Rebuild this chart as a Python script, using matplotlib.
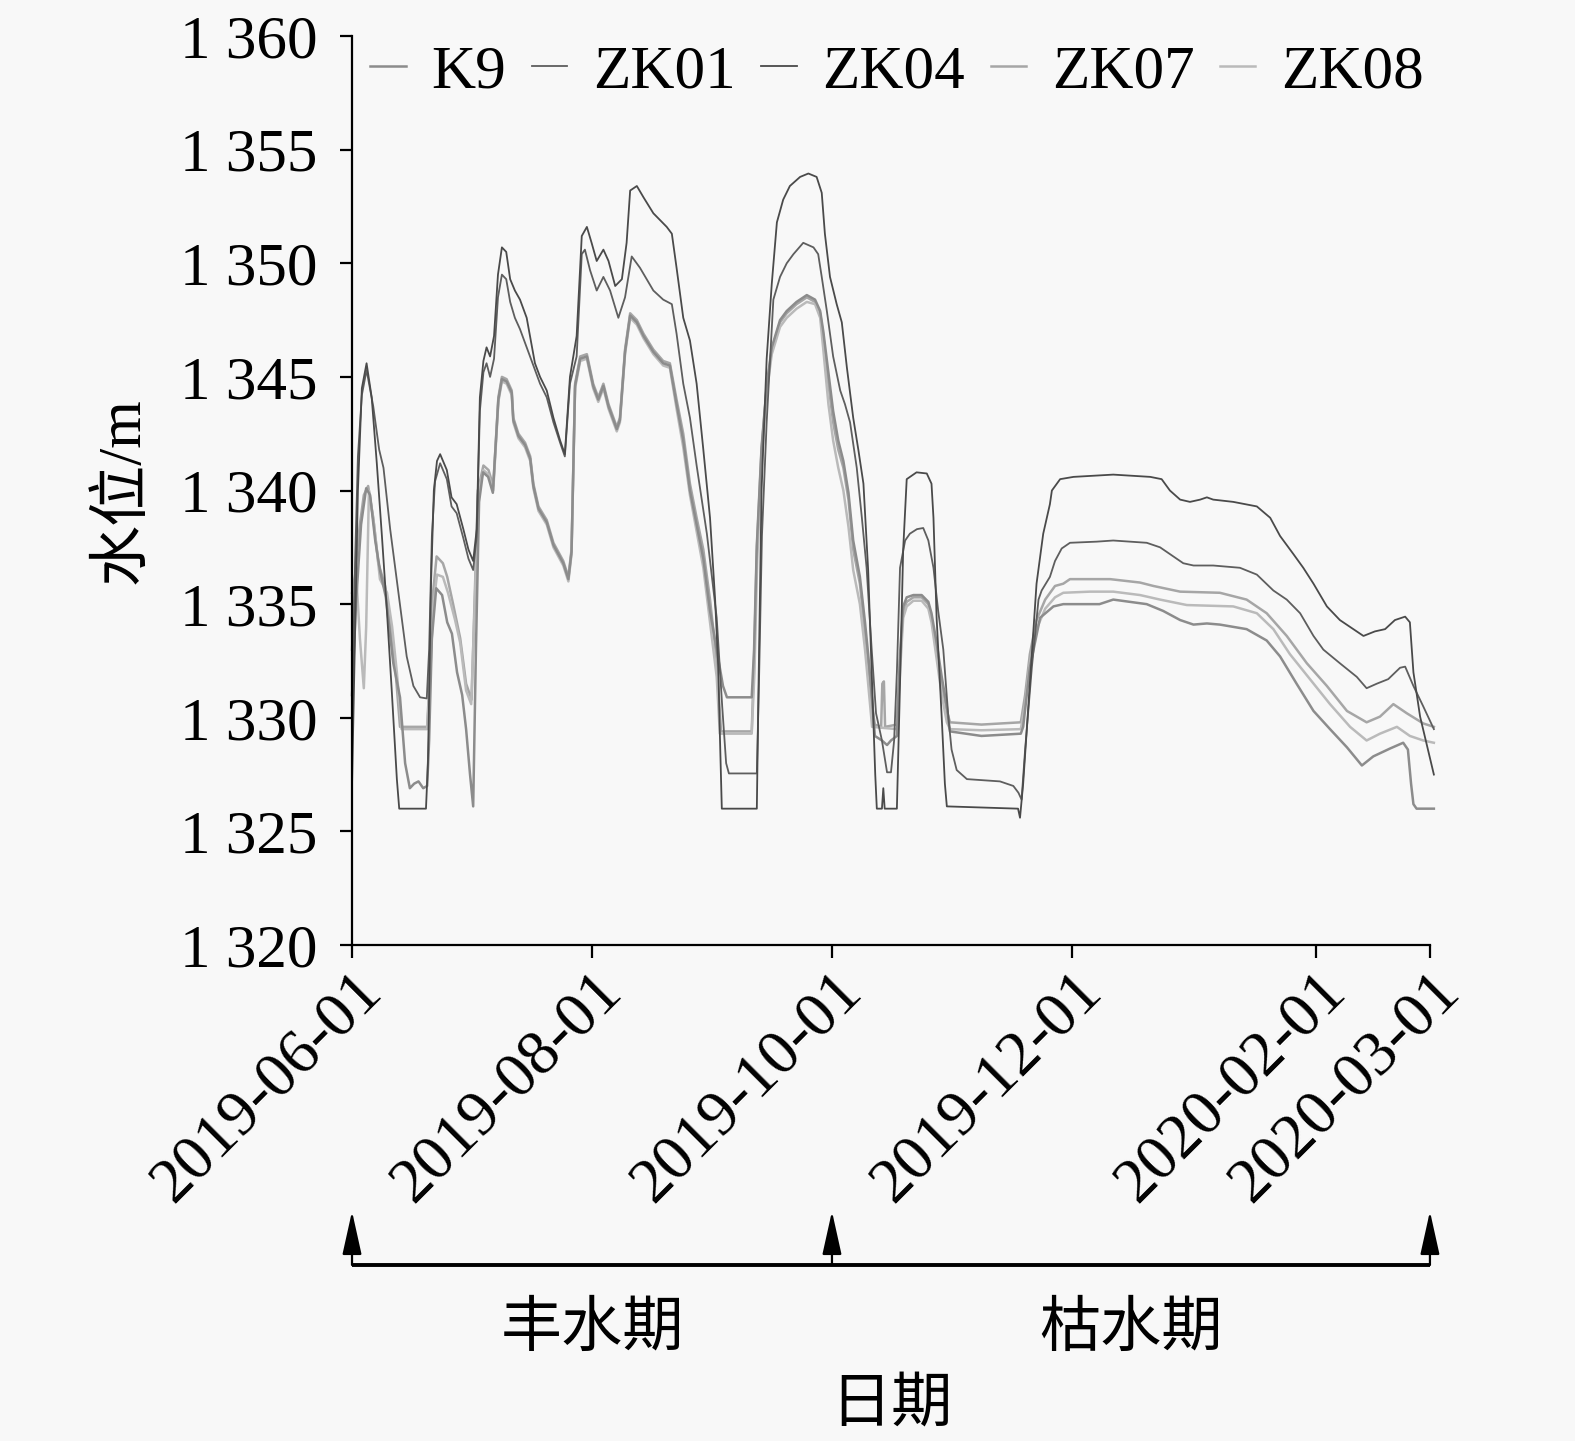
import numpy as np
import matplotlib
matplotlib.use('Agg')
import matplotlib.pyplot as plt
import matplotlib.dates as mdates
from matplotlib.ticker import FuncFormatter
from datetime import datetime

plt.rcParams['font.family'] = ['Liberation Serif', 'Noto Sans CJK SC']

start = datetime(2019, 6, 1)

# days since 2019-06-01 and water level (m) for each well
zk04_days = [0, 0.8, 1.5, 2.5, 3.7, 5.0, 6.3, 7.6, 8.8, 10.1, 11.4, 12.0, 18.8, 19.3, 20.1, 20.8, 21.6, 22.4,
             24.1, 25.3, 26.6, 28.3, 29.6, 30.8, 31.7, 32.5, 33.4, 34.2, 35.1, 36.1, 37.1, 38.1, 39.2, 40.2,
             41.4, 42.7, 44.4, 46.5, 47.8, 49.5, 51.2, 52.9, 54.1, 55.4, 57.1, 58.4, 59.7, 60.9, 62.2, 63.9,
             65.2, 66.9, 68.6, 69.8, 70.7, 72.4, 74.1, 76.6, 80.0, 81.3, 82.5, 84.2, 85.9, 87.6, 89.3, 91.0,
             92.3, 93.1, 93.5, 94.0, 102.9, 103.3, 104.1, 105.4, 106.7, 108.0, 109.6, 111.3, 113.9, 116.0,
             118.1, 119.4, 120.2, 121.5, 123.2, 124.5, 125.8, 127.4, 128.7, 130.0, 131.2, 132.2, 133.0, 133.4,
             134.7, 135.05, 135.4, 138.5, 139.3, 140.1, 141.0, 143.5, 146.1, 147.3, 147.8, 148.6, 149.9,
             150.7, 151.2, 169.3, 169.8, 170.6, 172.3, 174.0, 175.7, 177.4, 177.9, 180.0, 183.4, 193.5,
             202.9, 205.8, 207.9, 210.5, 213.0, 215.6, 217.3, 218.9, 224.0, 230.0, 233.4, 235.9, 239.3,
             241.8, 244.4, 247.8, 251.1, 255.4, 257.1, 260.0, 262.6, 265.1, 267.7, 268.9, 269.8, 271.5,
             273.5, 275.0]
zk04_level = [1327.0, 1334.0, 1340.0, 1344.5, 1345.6, 1344.1, 1341.2, 1338.0, 1334.9, 1331.2, 1327.3, 1326.0,
              1326.0, 1328.0, 1336.0, 1340.0, 1341.3, 1341.6, 1340.9, 1339.7, 1339.4, 1338.3, 1337.4, 1336.9,
              1338.3, 1344.1, 1345.7, 1346.3, 1345.9, 1346.8, 1349.5, 1350.7, 1350.5, 1349.3, 1348.8, 1348.4,
              1347.6, 1345.6, 1345.0, 1344.4, 1343.2, 1342.2, 1341.6, 1345.0, 1346.8, 1351.2, 1351.6, 1350.9,
              1350.1, 1350.6, 1350.1, 1349.0, 1349.3, 1350.9, 1353.2, 1353.4, 1352.9, 1352.2, 1351.6, 1351.3,
              1349.8, 1347.6, 1346.6, 1344.7, 1341.8, 1338.8, 1335.2, 1332.2, 1329.3, 1326.0, 1326.0, 1331.0,
              1340.0, 1345.8, 1349.1, 1351.8, 1352.8, 1353.4, 1353.8, 1353.95, 1353.8, 1353.1, 1351.3, 1349.4,
              1348.2, 1347.4, 1345.4, 1343.2, 1341.8, 1340.3, 1336.5, 1331.5, 1327.5, 1326.0, 1326.0, 1326.9,
              1326.0, 1326.0, 1331.5, 1337.4, 1340.5, 1340.8, 1340.75, 1340.3, 1338.8, 1334.4, 1330.0, 1327.1,
              1326.1, 1326.0, 1325.6, 1327.1, 1331.5, 1335.9, 1338.1, 1339.4, 1340.0, 1340.5, 1340.6, 1340.7,
              1340.6, 1340.5, 1340.0, 1339.6, 1339.5, 1339.6, 1339.7, 1339.6, 1339.5, 1339.3, 1338.8, 1338.0,
              1337.2, 1336.6, 1335.9, 1334.9, 1334.3, 1333.8, 1333.6, 1333.8, 1333.9, 1334.3, 1334.45, 1334.2,
              1332.0, 1330.05, 1328.6, 1327.5]

zk01_days = [0, 0.8, 1.5, 2.5, 3.7, 5.4, 6.9, 8.0, 9.7, 11.8, 13.9, 15.6, 17.3, 19.0, 19.6, 20.3, 21.1, 22.4,
             24.1, 25.3, 26.6, 28.3, 29.6, 30.8, 31.7, 32.5, 33.4, 34.2, 35.1, 36.1, 37.1, 38.1, 39.2, 40.2,
             41.4, 42.7, 44.4, 46.5, 47.8, 49.5, 51.2, 52.9, 54.1, 55.4, 57.1, 58.4, 59.2, 60.5, 62.2, 63.9,
             65.6, 67.7, 69.4, 71.1, 73.2, 76.6, 79.1, 81.3, 82.5, 84.2, 85.9, 87.6, 90.2, 92.7, 94.1, 95.1,
             95.8, 102.9, 103.5, 104.2, 105.4, 107.1, 108.8, 110.5, 112.2, 114.7, 117.3, 118.5, 119.4, 120.7,
             122.3, 124.1, 125.3, 126.6, 128.3, 129.6, 130.8, 132.1, 133.2, 134.7, 136.0, 137.0, 137.8, 138.5,
             139.3, 140.6, 141.8, 143.6, 145.2, 146.5, 147.8, 149.0, 150.3, 151.6, 152.4, 153.7, 156.3, 164.7,
             168.1, 169.4, 170.2, 171.1, 172.8, 174.5, 175.3, 177.4, 178.7, 180.4, 182.5, 189.3, 193.5, 202.0,
             205.4, 208.8, 211.3, 213.9, 218.9, 225.7, 230.0, 234.2, 237.6, 241.0, 244.4, 246.9, 251.1, 255.4,
             257.9, 260.5, 263.4, 266.4, 267.7, 269.8, 272.3, 275.0]
zk01_level = [1330.0, 1337.0, 1341.5, 1344.2, 1345.3, 1343.7, 1341.8, 1341.0, 1338.3, 1335.5, 1332.7, 1331.4,
              1330.9, 1330.85, 1333.0, 1338.0, 1340.4, 1341.2, 1340.5, 1339.3, 1339.0, 1337.9, 1337.0, 1336.5,
              1338.0, 1343.5, 1345.2, 1345.6, 1345.0, 1345.8, 1348.5, 1349.5, 1349.3, 1348.3, 1347.6, 1347.1,
              1346.3, 1345.3, 1344.7, 1344.1, 1343.0, 1342.1, 1341.5, 1344.7, 1345.9, 1350.4, 1350.6, 1349.7,
              1348.8, 1349.4, 1348.8, 1347.6, 1348.5, 1350.3, 1349.8, 1348.8, 1348.4, 1348.2, 1346.9, 1344.7,
              1343.2, 1341.1, 1338.1, 1334.4, 1330.5, 1328.0, 1327.55, 1327.55, 1332.0, 1338.0, 1343.0, 1348.4,
              1349.4, 1350.0, 1350.4, 1350.9, 1350.7, 1350.4, 1349.4, 1347.9, 1345.9, 1344.4, 1343.8, 1343.0,
              1341.0, 1338.8, 1336.6, 1333.0, 1330.2, 1329.0, 1327.6, 1327.6, 1329.0, 1332.0, 1336.6, 1337.8,
              1338.1, 1338.3, 1338.35, 1337.8, 1336.6, 1334.7, 1333.0, 1330.0, 1328.6, 1327.7, 1327.3, 1327.2,
              1327.0, 1326.7, 1326.4, 1328.6, 1332.2, 1335.2, 1335.6, 1336.2, 1336.9, 1337.45, 1337.7, 1337.75,
              1337.8, 1337.7, 1337.5, 1337.1, 1336.8, 1336.7, 1336.7, 1336.6, 1336.3, 1335.6, 1335.2, 1334.6,
              1333.6, 1333.0, 1332.4, 1331.8, 1331.3, 1331.5, 1331.7, 1332.2, 1332.25, 1331.4, 1330.5, 1329.5]

zk07_days = [0, 1.0, 2.0, 3.0, 4.1, 5.4, 6.7, 8.4, 9.7, 10.9, 12.2, 19.1, 19.8, 20.6, 21.5, 23.1, 24.2, 25.7,
             27.5, 29.0, 30.4, 31.3, 32.0, 33.4, 34.7, 35.9, 37.2, 38.1, 39.3, 40.6, 41.0, 42.3, 44.0, 45.3,
             46.1, 47.4, 49.5, 51.2, 53.7, 55.0, 55.8, 56.7, 58.0, 59.7, 61.3, 62.6, 63.9, 65.2, 67.3, 68.1,
             69.4, 70.7, 72.4, 74.1, 76.6, 79.1, 80.8, 82.5, 84.2, 85.9, 87.6, 89.3, 91.0, 92.7, 93.8, 101.6,
             102.2, 102.9, 104.1, 105.4, 106.7, 108.8, 110.5, 113.0, 115.6, 117.7, 119.0, 119.8, 121.1, 122.3,
             123.6, 124.9, 126.2, 127.4, 129.1, 130.4, 131.2, 132.2, 132.9, 134.5, 134.8, 135.2, 135.5, 138.5,
             139.3, 140.1, 141.0, 142.7, 144.8, 146.5, 147.3, 148.6, 149.9, 151.2, 152.0, 160.0, 170.0, 171.1,
             172.3, 174.0, 176.2, 178.7, 180.8, 182.5, 187.6, 192.7, 200.3, 203.7, 210.5, 220.6, 227.4, 232.5,
             237.6, 242.7, 247.8, 252.9, 257.9, 261.3, 264.7, 268.1, 272.3, 275.0]
zk07_level = [1333.0, 1336.8, 1338.5, 1339.8, 1340.2, 1338.8, 1336.8, 1335.8, 1334.3, 1332.4, 1329.6, 1329.6,
              1332.0, 1335.5, 1337.1, 1336.8, 1336.2, 1335.0, 1333.5, 1331.5, 1330.8, 1336.0, 1340.0, 1341.1,
              1340.9, 1340.2, 1344.1, 1345.0, 1344.9, 1344.4, 1343.2, 1342.5, 1342.1, 1341.5, 1340.3, 1339.3,
              1338.7, 1337.7, 1336.9, 1336.2, 1337.4, 1344.7, 1345.9, 1346.0, 1344.7, 1344.1, 1344.7, 1343.8,
              1342.8, 1343.2, 1346.2, 1347.8, 1347.5, 1346.9, 1346.2, 1345.7, 1345.6, 1344.0, 1342.5, 1340.3,
              1338.8, 1337.4, 1335.2, 1332.5, 1329.4, 1329.4, 1332.5, 1337.4, 1341.8, 1344.5, 1346.2, 1347.4,
              1347.8, 1348.2, 1348.5, 1348.3, 1347.8, 1346.8, 1344.7, 1343.0, 1341.8, 1341.0, 1339.6, 1337.4,
              1335.9, 1333.7, 1332.5, 1330.5, 1329.7, 1329.6, 1331.5, 1331.6, 1329.6, 1329.7, 1332.5, 1334.7,
              1335.1, 1335.3, 1335.3, 1335.0, 1334.4, 1333.0, 1331.5, 1330.3, 1329.8, 1329.7, 1329.8, 1331.0,
              1332.8, 1334.3, 1335.2, 1335.8, 1335.9, 1336.1, 1336.1, 1336.1, 1335.95, 1335.8, 1335.55, 1335.5,
              1335.2, 1334.6, 1333.6, 1332.4, 1331.4, 1330.3, 1329.8, 1330.05, 1330.6, 1330.2, 1329.75, 1329.6]

zk08_days = [0, 1.0, 2.0, 3.0, 3.6, 4.3, 5.6, 7.1, 8.9, 10.2, 11.4, 12.6, 19.1, 19.8, 20.6, 21.6, 23.1, 24.4,
             26.2, 27.5, 29.0, 30.3, 31.3, 32.0, 33.4, 34.7, 35.9, 37.2, 38.1, 39.3, 40.6, 41.0, 42.3, 44.0,
             45.3, 46.1, 47.4, 49.5, 51.2, 53.7, 55.0, 55.8, 56.7, 58.0, 59.7, 61.3, 62.6, 63.9, 65.2, 67.3,
             68.1, 69.4, 70.7, 72.4, 74.1, 76.6, 79.1, 80.8, 82.5, 84.2, 85.9, 87.6, 89.3, 91.0, 92.7, 93.5,
             101.6, 102.3, 103.0, 104.2, 105.4, 106.7, 108.8, 110.5, 113.0, 115.6, 117.7, 119.0, 119.8, 121.1,
             122.3, 123.6, 124.9, 126.2, 127.4, 129.1, 130.4, 131.2, 132.2, 138.5, 139.3, 140.1, 141.0, 142.7,
             144.8, 146.5, 147.3, 148.6, 149.9, 151.2, 152.0, 160.0, 170.0, 171.1, 172.3, 174.0, 176.2, 178.7,
             180.8, 187.6, 193.5, 200.3, 205.4, 212.2, 224.0, 230.0, 234.2, 238.4, 243.5, 248.6, 253.7, 257.9,
             261.3, 265.6, 268.9, 272.3, 275.0]
zk08_level = [1335.5, 1336.5, 1333.5, 1331.3, 1334.0, 1340.0, 1338.5, 1336.1, 1335.5, 1334.0, 1332.0, 1329.5,
              1329.5, 1331.5, 1334.8, 1336.3, 1336.2, 1335.5, 1334.3, 1333.3, 1331.2, 1330.6, 1335.5, 1339.8,
              1340.9, 1340.7, 1340.0, 1343.9, 1344.8, 1344.7, 1344.2, 1343.0, 1342.3, 1341.9, 1341.3, 1340.1,
              1339.1, 1338.5, 1337.5, 1336.7, 1336.0, 1337.2, 1344.5, 1345.7, 1345.8, 1344.5, 1343.9, 1344.5,
              1343.6, 1342.6, 1343.0, 1346.0, 1347.6, 1347.3, 1346.7, 1346.0, 1345.5, 1345.4, 1343.6, 1341.9,
              1339.8, 1338.2, 1336.6, 1334.2, 1331.8, 1329.3, 1329.3, 1332.0, 1337.0, 1341.5, 1344.3, 1346.0,
              1347.2, 1347.6, 1348.0, 1348.3, 1348.2, 1347.6, 1346.2, 1343.8, 1342.2, 1341.0, 1340.0, 1338.4,
              1336.5, 1335.0, 1333.0, 1331.5, 1329.6, 1329.5, 1332.0, 1334.4, 1334.9, 1335.15, 1335.15, 1334.8,
              1334.2, 1332.6, 1331.0, 1329.8, 1329.5, 1329.45, 1329.5, 1330.6, 1332.4, 1333.9, 1334.8, 1335.3,
              1335.5, 1335.55, 1335.55, 1335.4, 1335.2, 1334.96, 1334.9, 1334.6, 1333.9, 1332.8, 1331.7, 1330.6,
              1329.6, 1329.0, 1329.3, 1329.6, 1329.2, 1329.0, 1328.9]

k9_days = [0, 1.0, 2.3, 3.6, 4.6, 5.9, 7.1, 8.6, 10.5, 12.2, 13.5, 14.7, 15.8, 16.9, 18.1, 19.1, 19.6, 20.3, 21.4,
           22.9, 24.2, 25.4, 26.7, 28.0, 29.0, 30.0, 30.8, 31.5, 32.3, 33.3, 34.6, 35.8, 37.2, 38.1, 39.3, 40.6,
           41.0, 42.3, 44.0, 45.3, 46.1, 47.4, 49.5, 51.2, 53.7, 55.0, 55.8, 56.7, 58.0, 59.7, 61.3, 62.6, 63.9,
           65.2, 67.3, 68.1, 69.4, 70.7, 72.4, 74.1, 76.6, 79.1, 80.8, 82.5, 84.2, 85.9, 87.6, 89.3, 91.0, 92.7,
           94.3, 95.3, 101.6, 102.2, 102.9, 104.1, 105.4, 106.7, 108.8, 110.5, 113.0, 115.6, 117.7, 119.0,
           119.8, 121.1, 122.3, 123.6, 124.9, 126.2, 127.4, 129.1, 130.4, 131.2, 132.2, 132.9, 134.7, 136.0,
           137.0, 138.5, 139.3, 140.1, 141.0, 142.7, 144.8, 146.5, 147.3, 148.6, 149.9, 151.2, 152.0, 160.0,
           170.0, 170.6, 172.3, 174.9, 178.3, 180.8, 190.0, 193.5, 202.0, 206.2, 210.5, 213.9, 217.3, 220.6,
           227.4, 232.5, 235.9, 240.1, 244.4, 248.6, 252.9, 256.7, 259.6, 263.9, 267.2, 268.4, 269.2, 269.8,
           270.6, 275.0]
k9_level = [1331.0, 1335.0, 1338.5, 1340.1, 1339.8, 1337.8, 1336.5, 1335.3, 1332.4, 1330.9, 1328.0, 1326.9,
            1327.1, 1327.2, 1326.9, 1327.0, 1329.0, 1333.5, 1335.7, 1335.4, 1334.2, 1333.7, 1332.0, 1331.0,
            1329.5, 1327.5, 1326.1, 1333.0, 1339.5, 1340.8, 1340.6, 1339.9, 1344.0, 1344.9, 1344.8, 1344.3,
            1343.1, 1342.4, 1342.0, 1341.4, 1340.2, 1339.2, 1338.6, 1337.6, 1336.8, 1336.1, 1337.3, 1344.6,
            1345.8, 1345.9, 1344.6, 1344.0, 1344.6, 1343.7, 1342.7, 1343.1, 1346.1, 1347.7, 1347.4, 1346.8,
            1346.1, 1345.6, 1345.5, 1343.8, 1342.2, 1340.0, 1338.5, 1337.0, 1334.7, 1333.0, 1331.4, 1330.9,
            1330.9, 1333.0, 1337.6, 1341.9, 1344.6, 1346.3, 1347.5, 1347.9, 1348.3, 1348.6, 1348.4, 1347.9,
            1347.0, 1345.2, 1343.5, 1342.2, 1341.3, 1339.9, 1337.8, 1336.2, 1334.2, 1332.8, 1330.8, 1329.2,
            1329.0, 1328.8, 1329.0, 1329.2, 1332.8, 1334.9, 1335.3, 1335.4, 1335.4, 1335.1, 1334.6, 1333.3,
            1331.8, 1330.5, 1329.4, 1329.2, 1329.3, 1329.6, 1332.2, 1334.4, 1334.9, 1335.0, 1335.0, 1335.2,
            1335.0, 1334.7, 1334.3, 1334.1, 1334.15, 1334.1, 1333.9, 1333.4, 1332.7, 1331.5, 1330.3, 1329.5,
            1328.7, 1327.9, 1328.3, 1328.65, 1328.9, 1328.6, 1327.1, 1326.2, 1326.0, 1326.0]

names = ['K9', 'ZK01', 'ZK04', 'ZK07', 'ZK08']
all_days = [k9_days, zk01_days, zk04_days, zk07_days, zk08_days]
all_levels = [k9_level, zk01_level, zk04_level, zk07_level, zk08_level]
colors = ['#8c8c8c', '#5e5e5e', '#4a4a4a', '#a6a6a6', '#bababa']
widths = [1.8, 1.3, 1.3, 1.8, 1.8]

tick_dates = ['2019-06-01', '2019-08-01', '2019-10-01', '2019-12-01', '2020-02-01', '2020-03-01']

fs = 44
bg = '#f8f8f8'
fig = plt.figure(figsize=(15.75, 14.41), dpi=100, facecolor=bg)
ax = fig.add_axes([0.2235, 0.3442, 0.6844, 0.6308], facecolor=bg)

t0 = mdates.date2num(start)
order = [3, 4, 0, 1, 2]
for i in order:
    x = t0 + np.array(all_days[i])
    ax.plot(x, all_levels[i], color=colors[i], lw=widths[i], label=names[i], clip_on=False)

ax.set_ylim(1320, 1360)
ax.set_yticks(np.arange(1320, 1361, 5))
ax.yaxis.set_major_formatter(FuncFormatter(lambda v, p: '%d %03d' % (int(v) // 1000, int(v) % 1000)))

ticks = [mdates.date2num(datetime.strptime(d, '%Y-%m-%d')) for d in tick_dates]
ax.set_xlim(ticks[0], ticks[-1])
ax.set_xticks(ticks)
ax.set_xticklabels(tick_dates, rotation=45, ha='right', va='top', rotation_mode='anchor')

for s in ['top', 'right']:
    ax.spines[s].set_visible(False)
for s in ['left', 'bottom']:
    ax.spines[s].set_linewidth(1.6)
ax.tick_params(axis='both', direction='out', length=9, width=1.6, colors='black')
ax.tick_params(axis='y', pad=16, labelsize=fs)
ax.tick_params(axis='x', pad=3, labelsize=46)

ax.set_ylabel('水位/m', fontsize=fs, labelpad=20)

handles, labels = ax.get_legend_handles_labels()
hmap = dict(zip(labels, handles))
ax.legend([hmap[n] for n in names], names, loc='center', bbox_to_anchor=(0.5056, 0.960), ncol=5,
          frameon=False, fontsize=fs, handlelength=0.58, handletextpad=0.42, columnspacing=0.42,
          borderaxespad=0, borderpad=0)

# season markers under the axis
tr = ax.get_xaxis_transform()
y_base = -0.352
y_tip = -0.293
ax.plot([ticks[0], ticks[-1]], [y_base, y_base], transform=tr, color='black', lw=2.8,
        clip_on=False, solid_capstyle='butt')
for d in [ticks[0], ticks[2], ticks[-1]]:
    ax.annotate('', xy=(d, y_tip), xytext=(d, y_base), xycoords=tr, textcoords=tr,
                arrowprops=dict(arrowstyle='-|>,head_length=0.9,head_width=0.2', color='black', lw=1.6,
                                mutation_scale=30, shrinkA=0, shrinkB=0),
                annotation_clip=False)

ax.text(t0 + 61, -0.425, '丰水期', transform=tr, ha='center', va='center', fontsize=fs)
ax.text(t0 + 198, -0.425, '枯水期', transform=tr, ha='center', va='center', fontsize=fs)
ax.text(0.5, -0.508, '日期', transform=ax.transAxes, ha='center', va='center', fontsize=fs)

fig.savefig('out.png', dpi=100, facecolor=bg)
